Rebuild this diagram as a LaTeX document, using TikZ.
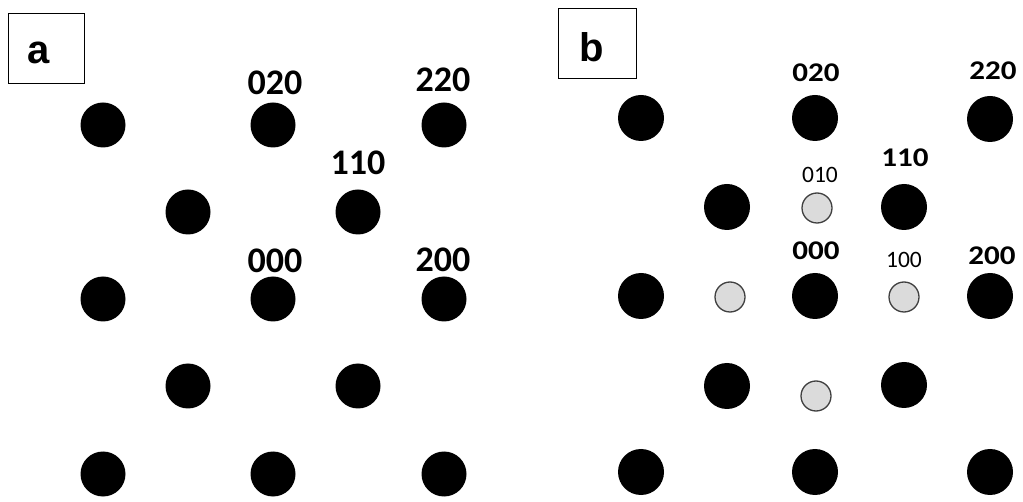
\documentclass[tikz,border=0pt]{standalone}
\usepackage{fontspec}
\newfontfamily\lblA{Carlito}[BoldFont={* Bold}]
\newfontfamily\lblB{Carlito}[FakeStretch=1.15,BoldFont={* Bold}]
\newfontfamily\boxfont{Liberation Sans}
\begin{document}
\begin{tikzpicture}[x=1pt,y=-1pt,
  bigdot/.style={circle,fill=black,minimum size=45pt,inner sep=0pt},
  bdot/.style={circle,fill=black,minimum size=46pt,inner sep=0pt},
  ldot/.style={circle,fill=black!14,draw=black!75,line width=1.3pt,minimum size=30pt,inner sep=0pt},
  panelbox/.style={draw=black,line width=0.9pt},
  boxlbl/.style={font=\boxfont\bfseries\fontsize{40}{40}\selectfont,anchor=base,inner sep=0pt},
  lbla/.style={font=\lblA\bfseries\fontsize{36}{36}\selectfont,anchor=base,inner sep=0pt},
  lblb/.style={font=\lblB\bfseries\fontsize{27}{27}\selectfont,anchor=base,inner sep=0pt},
  lbls/.style={font=\lblA\fontsize{23.5}{23.5}\selectfont,anchor=base,inner sep=0pt}]
\useasboundingbox (0,0) rectangle (1023,502);
% panel a
\draw[panelbox] (8,13) rectangle (84,83);
\node[boxlbl] (la) at (38.5,64) {a};
\foreach \x/\y/\n in {103/125/a1,273/125/a2,444/125/a3,
                      188/212/a4,358/212/a5,
                      103/299/a6,273/299/a7,444/299/a8,
                      188/386/a9,358/386/a10,
                      103/474/a11,273/474/a12,444/474/a13}
  \node[bigdot] (\n) at (\x,\y) {};
\node[lbla] (ta020) at (275,95) {020};
\node[lbla] (ta220) at (443,92) {220};
\node[lbla] (ta110) at (358,175) {110};
\node[lbla] (ta000) at (275,273) {000};
\node[lbla] (ta200) at (443,272) {200};
% panel b
\draw[panelbox] (558,8) rectangle (636,78);
\node[boxlbl] (lb) at (592,62) {b};
\foreach \x/\y/\n in {641/118/b1,815/118/b2,990/119/b3,
                      727/207/b4,904/207/b5,
                      641/296/b6,815/296/b7,990/296/b8,
                      727/386/b9,904/385/b10,
                      641/472/b11,815/472/b12,990/472/b13}
  \node[bdot] (\n) at (\x,\y) {};
\node[ldot] (c1) at (817,208) {};
\node[ldot] (c2) at (730,297) {};
\node[ldot] (c3) at (904,297) {};
\node[ldot] (c4) at (816,396) {};
\node[lblb] (tb020) at (816,82) {020};
\node[lblb] (tb220) at (993,80) {220};
\node[lblb] (tb110) at (905,167) {110};
\node[lbls] (tb010) at (820,183) {010};
\node[lblb] (tb000) at (816,260) {000};
\node[lbls] (tb100) at (904,268) {100};
\node[lblb] (tb200) at (992,265) {200};
\end{tikzpicture}
\end{document}
